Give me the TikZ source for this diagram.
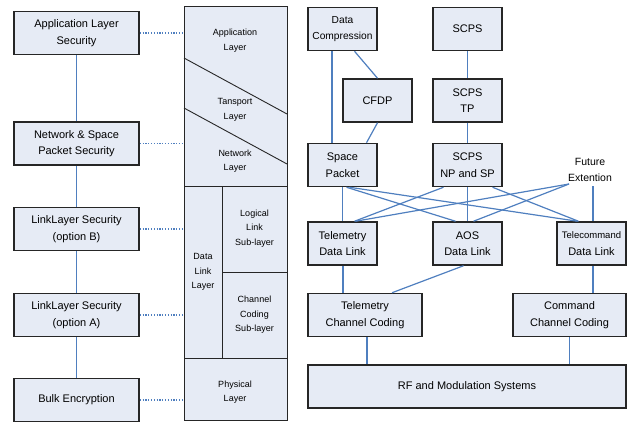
\documentclass[tikz,border=0pt]{standalone}
\usepackage{fontspec}
\setmainfont{Liberation Sans}
\usepackage{tikz}
\usetikzlibrary{shapes,positioning}
\definecolor{boxfill}{HTML}{E6EBF5}
\definecolor{linkblue}{HTML}{4F7FBF}
\definecolor{boxline}{HTML}{262626}

\begin{document}
\begin{tikzpicture}[x=1pt,y=-1pt]
	\tikzset{secbox/.style={draw=boxline,line width=1.5pt,fill=boxfill,align=center,
			minimum width=125pt,minimum height=43pt,inner sep=1pt,
			font=\fontsize{11}{16.5}\selectfont}}
	\tikzset{protobox/.style={secbox,minimum width=69pt}}
	\tikzset{layertext/.style={align=center,inner sep=0pt,font=\fontsize{9}{14.5}\selectfont}}
	\tikzset{link/.style={draw=linkblue,line width=1.2pt}}
	\tikzset{dotlink/.style={draw=linkblue,line width=1.2pt,dash pattern=on 1.2pt off 1.6pt}}
	\useasboundingbox (0,0) rectangle (628,422);

	% security boxes
	\node[secbox] (appsec) at (76.5,33) {Application Layer\\Security};
	\node[secbox] (netsec) at (76.5,143.5) {Network \& Space\\Packet Security};
	\node[secbox] (linkb) at (76.5,229) {LinkLayer Security\\(option B)};
	\node[secbox] (linka) at (76.5,315) {LinkLayer Security\\(option A)};
	\node[secbox] (bulk) at (76.5,400) {Bulk Encryption};

	% layer stack
	\coordinate (stl) at (184,0);
	\draw[boxline,line width=1pt,fill=boxfill] (184,7) rectangle (287,420);
	\draw[boxline,line width=0.9pt] (184,58) -- (287,114);
	\draw[boxline,line width=0.9pt] (184,108) -- (287,164);
	\draw[boxline,line width=0.9pt] (184,186) -- (287,186);
	\draw[boxline,line width=0.9pt] (222,186) -- (222,358);
	\draw[boxline,line width=0.9pt] (222,272) -- (287,272);
	\draw[boxline,line width=0.9pt] (184,358) -- (287,358);
	\node[layertext] (applay) at (235,40.5) {Application\\Layer};
	\node[layertext] (translay) at (235,110) {Tansport\\Layer};
	\node[layertext] (netlay) at (235,161) {Network\\Layer};
	\node[layertext] (dllay) at (203,272) {Data\\Link\\Layer};
	\node[layertext] (lllay) at (254.5,228.5) {Logical\\Link\\Sub-layer};
	\node[layertext] (cclay) at (254.5,315) {Channel\\Coding\\Sub-layer};
	\node[layertext] (phylay) at (235,392) {Physical\\Layer};

	\draw[link] (appsec) -- (netsec);
	\draw[link] (netsec) -- (linkb);
	\draw[link] (linkb) -- (linka);
	\draw[link] (linka) -- (bulk);
	\foreach \b in {appsec,netsec,linkb,linka,bulk}
		\draw[dotlink] (\b.east) -- (\b.east -| stl);

	% protocol boxes
	\node[protobox,font=\fontsize{10.2}{16}\selectfont] (dc) at (342.5,29) {Data\\Compression};
	\node[protobox] (scps) at (467.5,29) {SCPS};
	\node[protobox] (cfdp) at (377.5,100.5) {CFDP};
	\node[protobox] (scpstp) at (467.5,100.5) {SCPS\\TP};
	\node[protobox] (sp) at (342.5,165) {Space\\Packet};
	\node[protobox] (npsp) at (467.5,165) {SCPS\\NP and SP};
	\node[align=center,font=\fontsize{10.5}{16}\selectfont] (fe) at (590,170) {Future\\Extention};
	\node[protobox] (tdl) at (342.5,243.5) {Telemetry\\Data Link};
	\node[protobox] (aos) at (467.5,243.5) {AOS\\Data Link};
	\node[protobox,font=\fontsize{9.5}{16.5}\selectfont] (tcdl) at (591.5,243.5) {Telecommand\\{\fontsize{11}{16.5}\selectfont Data Link}};
	\node[protobox,minimum width=114pt] (tcc) at (365,315) {Telemetry\\Channel Coding};
	\node[protobox,minimum width=113pt] (ccc) at (569.5,315) {Command\\Channel Coding};
	\node[protobox,minimum width=318pt] (rf) at (467,386.5) {RF and Modulation Systems};
	\coordinate (fe1) at (569,184);
	\coordinate (fe2) at (593,186);

	\draw[link] ([xshift=-10.5pt]dc.south) -- ([xshift=-10.5pt]sp.north);
	\draw[link] ([xshift=12pt]dc.south) -- (cfdp.north);
	\draw[link] (cfdp.south) -- ([xshift=24pt]sp.north);
	\draw[link] (scps) -- (scpstp);
	\draw[link] (scpstp) -- (npsp);
	\draw[link] (sp.south) -- (tdl.north);
	\draw[link] ([xshift=4pt]sp.south) -- ([xshift=-12pt]aos.north);
	\draw[link] ([xshift=7pt]sp.south) -- ([xshift=-14pt]tcdl.north);
	\draw[link] ([xshift=-24pt]npsp.south) -- ([xshift=12pt]tdl.north);
	\draw[link] (npsp.south) -- (aos.north);
	\draw[link] ([xshift=25pt]npsp.south) -- ([xshift=-13pt]tcdl.north);
	\draw[link] (fe1) -- ([xshift=13pt]tdl.north);
	\draw[link] (fe1) -- ([xshift=6pt]aos.north);
	\draw[link] (fe2) -- (fe2 |- tcdl.north);
	\draw[link] ([xshift=0.5pt]tdl.south) -- ([xshift=-22pt]tcc.north);
	\draw[link] ([xshift=-4pt]aos.south) -- ([xshift=27pt]tcc.north);
	\draw[link] ([xshift=1.5pt]tcdl.south) -- ([xshift=23.5pt]ccc.north);
	\draw[link] ([xshift=2pt]tcc.south) -- ([xshift=-100pt]rf.north);
	\draw[link] (ccc.south) -- ([xshift=102.5pt]rf.north);
\end{tikzpicture}
\end{document}
